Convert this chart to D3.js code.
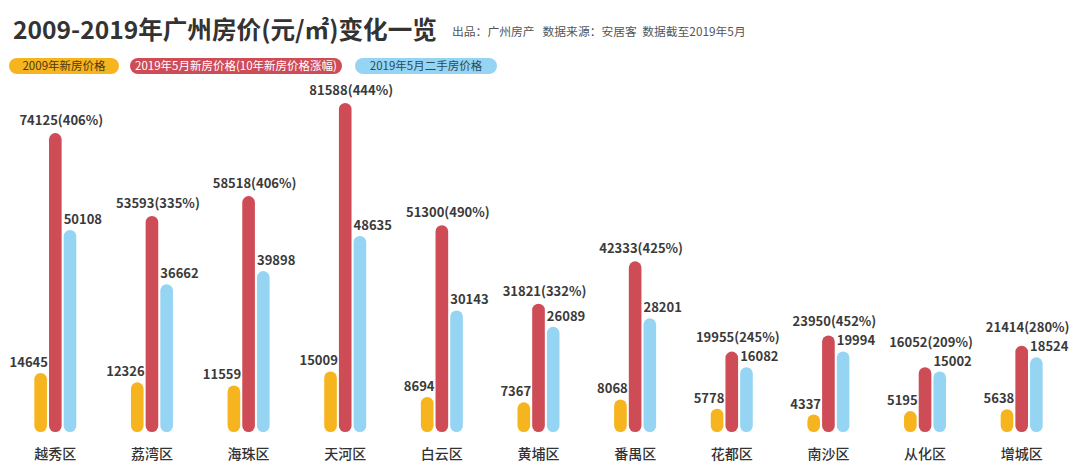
<!DOCTYPE html>
<html>
<head>
<meta charset="utf-8">
<script src="https://cdn.jsdelivr.net/npm/d3@7"></script>
<style>
  body { margin: 0; background: #fff; }
  svg { font-family: "Noto Sans CJK SC", "Noto Sans", sans-serif; display: block; }
</style>
</head>
<body>
<div id="chart"></div>
<script>
// districts and values
var districts = ["越秀区", "荔湾区", "海珠区", "天河区", "白云区", "黄埔区", "番禺区", "花都区", "南沙区", "从化区", "增城区"];
var price2009 = [14645, 12326, 11559, 15009, 8694, 7367, 8068, 5778, 4337, 5195, 5638];
var price2019 = [74125, 53593, 58518, 81588, 51300, 31821, 42333, 19955, 23950, 16052, 21414];
var growth = ["406%", "335%", "406%", "444%", "490%", "332%", "425%", "245%", "452%", "209%", "280%"];
var resale2019 = [50108, 36662, 39898, 48635, 30143, 26089, 28201, 16082, 19994, 15002, 18524];

var seriesNames = ["2009年新房价格", "2019年5月新房价格(10年新房价格涨幅)", "2019年5月二手房价格"];
var colors = ["#F6B51E", "#CE4C55", "#95D5F3"];

var width = 1080, height = 471;

var svg = d3.select("#chart").append("svg")
  .attr("width", width)
  .attr("height", height);

// title
svg.append("text")
  .attr("x", 13)
  .attr("y", 39)
  .attr("font-size", "24.6px")
  .attr("font-weight", "bold")
  .attr("fill", "#333")
  .text("2009-2019年广州房价(元/㎡)变化一览");

svg.append("text")
  .attr("x", 452)
  .attr("y", 36)
  .attr("font-size", "11.8px")
  .attr("fill", "#555")
  .attr("xml:space", "preserve")
  .text("出品：广州房产   数据来源：安居客  数据截至2019年5月");

// legend pills
var legendPos = [[9, 110], [130, 212], [355, 142]];
var legendText = ["#4a3a10", "#fff", "#2c4a5a"];
var legend = svg.selectAll(".legend")
  .data(seriesNames)
  .enter()
  .append("g")
  .attr("class", "legend")
  .attr("transform", function(d, i) { return "translate(" + legendPos[i][0] + ",58)"; });

legend.append("rect")
  .attr("width", function(d, i) { return legendPos[i][1]; })
  .attr("height", 16)
  .attr("rx", 8)
  .attr("fill", function(d, i) { return colors[i]; });

legend.append("text")
  .attr("x", function(d, i) { return legendPos[i][1] / 2; })
  .attr("y", 12)
  .attr("text-anchor", "middle")
  .attr("font-size", "11.5px")
  .attr("fill", function(d, i) { return legendText[i]; })
  .text(function(d) { return d; });

// scales
var x = d3.scaleBand()
  .domain(districts)
  .range([7, 1070]);

var inner = d3.scaleBand()
  .domain([0, 1, 2])
  .range([x.bandwidth() / 2 - 21, x.bandwidth() / 2 + 21])
  .paddingInner(0.14);

var y = d3.scaleLinear()
  .domain([0, 81588])
  .range([432, 103]);

var barW = inner.bandwidth();

var rows = districts.map(function(d, i) {
  return { name: d, vals: [price2009[i], price2019[i], resale2019[i]], growth: growth[i] };
});

var groups = svg.selectAll(".district")
  .data(rows)
  .enter()
  .append("g")
  .attr("class", "district")
  .attr("transform", function(d) { return "translate(" + x(d.name) + ",0)"; });

groups.selectAll("rect")
  .data(function(d) { return d.vals; })
  .enter()
  .append("rect")
  .attr("x", function(d, i) { return inner(i); })
  .attr("y", function(d) { return y(d); })
  .attr("width", barW)
  .attr("height", function(d) { return y(0) - y(d); })
  .attr("rx", barW / 2)
  .attr("fill", function(d, i) { return colors[i]; });

// value labels
groups.append("text")
  .attr("x", inner(0) + barW + 1)
  .attr("y", function(d) { return y(d.vals[0]) - 6; })
  .attr("text-anchor", "end")
  .attr("font-size", "13px")
  .attr("font-weight", "bold")
  .attr("fill", "#3a3a3a")
  .text(function(d) { return d.vals[0]; });

// keep the new-price label clear of the resale label
groups.append("text")
  .attr("x", inner(1) + barW / 2 + 6)
  .attr("y", function(d) { return Math.min(y(d.vals[1]) - 8, y(d.vals[2]) - 25); })
  .attr("text-anchor", "middle")
  .attr("font-size", "13px")
  .attr("font-weight", "bold")
  .attr("fill", "#3a3a3a")
  .text(function(d) { return d.vals[1] + "(" + d.growth + ")"; });

groups.append("text")
  .attr("x", inner(2))
  .attr("y", function(d) { return y(d.vals[2]) - 6; })
  .attr("text-anchor", "start")
  .attr("font-size", "13px")
  .attr("font-weight", "bold")
  .attr("fill", "#3a3a3a")
  .text(function(d) { return d.vals[2]; });

// x axis labels
var xAxis = d3.axisBottom(x).tickSize(0).tickPadding(10);
svg.append("g")
  .attr("transform", "translate(0,439)")
  .call(xAxis)
  .call(function(g) { g.select(".domain").remove(); })
  .selectAll("text")
  .attr("font-family", "Noto Sans CJK SC")
  .attr("font-size", "14px")
  .attr("font-weight", "500")
  .attr("fill", "#333");
</script>
</body>
</html>
